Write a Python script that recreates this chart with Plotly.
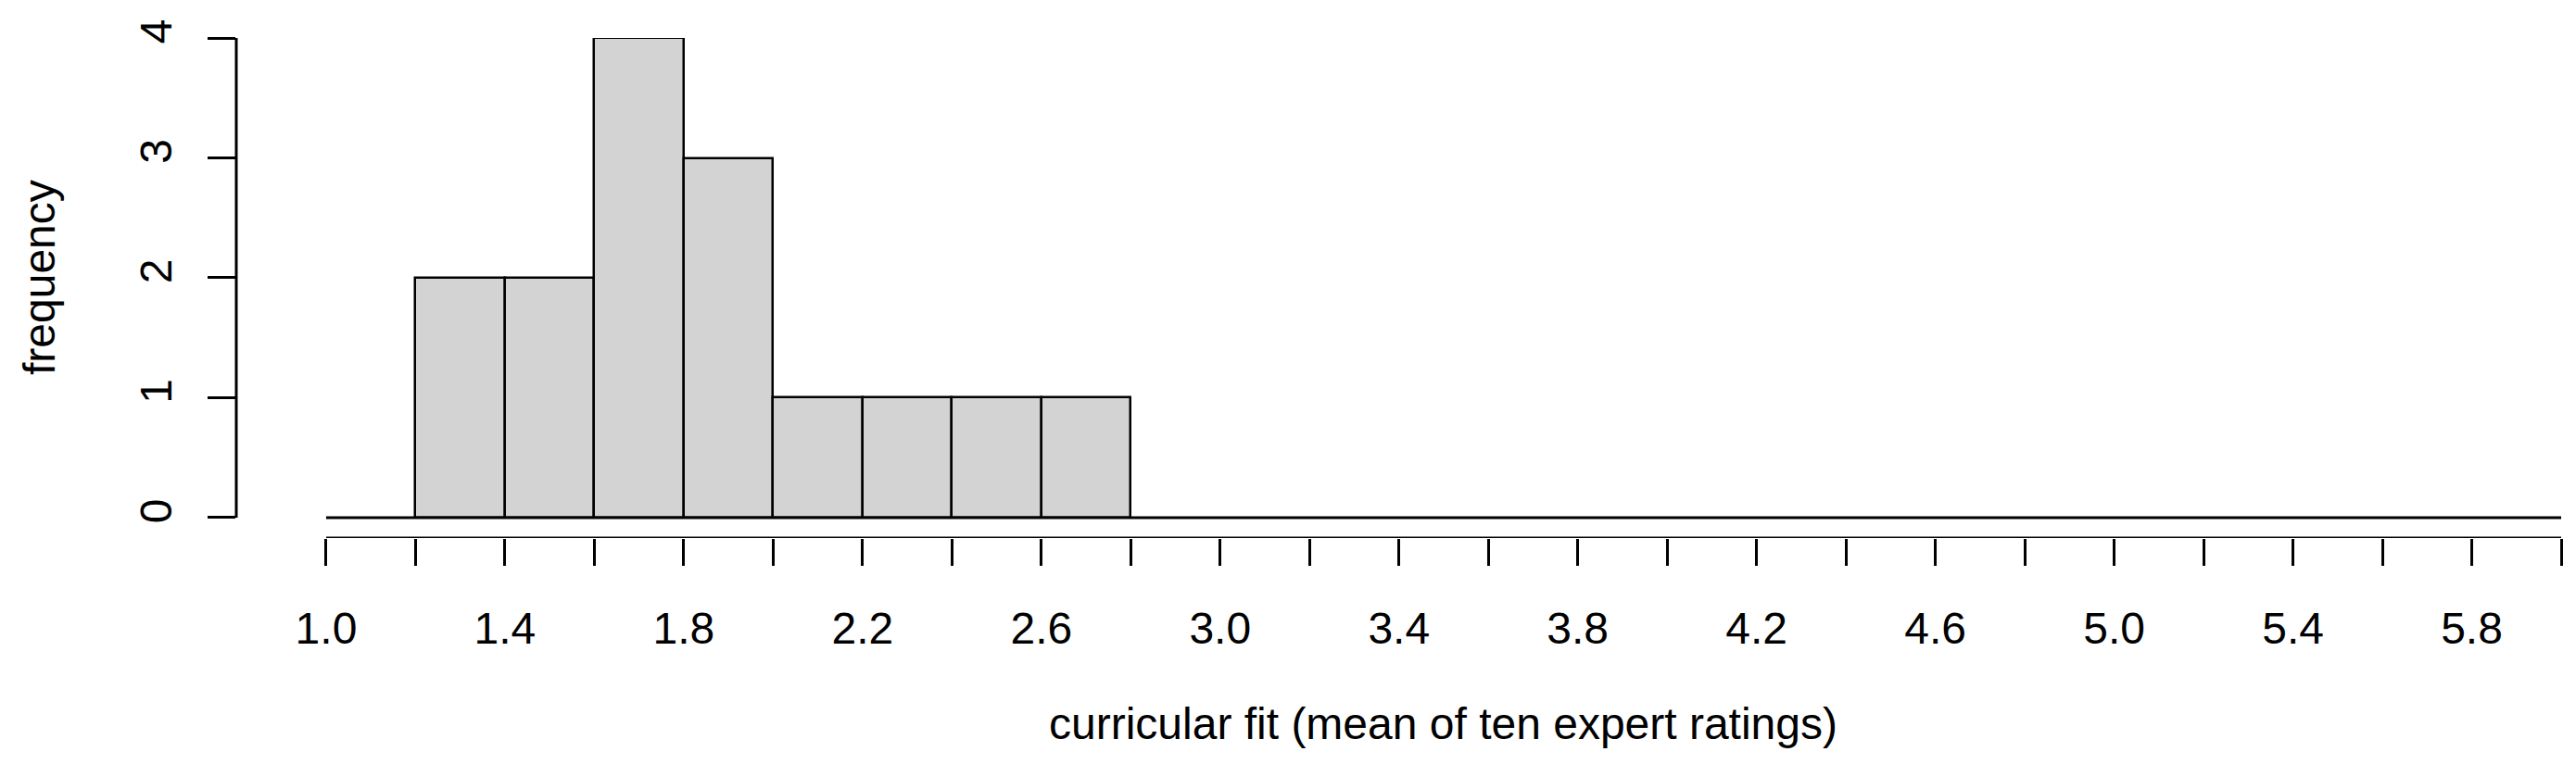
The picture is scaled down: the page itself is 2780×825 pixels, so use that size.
import plotly.graph_objects as go

bin_left = [round(1.0 + 0.2 * i, 1) for i in range(25)]
counts = [0, 2, 2, 4, 3, 1, 1, 1, 1] + [0] * 16
x_tick_vals = [round(1.0 + 0.2 * i, 1) for i in range(26)]
x_tick_text = [f"{v:.1f}" if i % 2 == 0 else "" for i, v in enumerate(x_tick_vals)]
y_tick_vals = [0, 1, 2, 3, 4]
x_title = "curricular fit (mean of ten expert ratings)"
y_title = "frequency"

FONT = "Liberation Sans, Arial, sans-serif"
centers = [b + 0.1 for b in bin_left]
nz = [(c, v) for c, v in zip(centers, counts) if v > 0]

fig = go.Figure()
fig.add_trace(go.Scatter(x=[bin_left[0], bin_left[-1] + 0.2], y=[0, 0], mode="lines",
                         line=dict(color="black", width=3), showlegend=False, hoverinfo="skip"))
fig.add_trace(go.Bar(x=[c for c, _ in nz], y=[v for _, v in nz], width=0.2,
                     marker=dict(color="#D3D3D3", line=dict(color="black", width=2.5)),
                     showlegend=False))

xmin, xmax = x_tick_vals[0], x_tick_vals[-1]
fig.add_shape(type="line", xref="x", yref="y", x0=xmin, x1=xmax, y0=-0.17, y1=-0.17,
              line=dict(color="black", width=3))
fig.add_shape(type="line", xref="paper", yref="y", x0=0, x1=0, y0=0, y1=4,
              line=dict(color="black", width=3))

fig.update_layout(
    width=2780, height=825, plot_bgcolor="white", paper_bgcolor="white",
    margin=dict(l=247, r=24, t=33, b=252),
    font=dict(family=FONT, size=48, color="black"),
    bargap=0,
    xaxis=dict(range=[0.799, 6.0], tickvals=x_tick_vals, ticktext=x_tick_text,
               ticks="outside", ticklen=29, tickwidth=2.5, tickcolor="black",
               showgrid=False, zeroline=False, showline=False, ticklabelstandoff=26),
    yaxis=dict(range=[-0.17, 4], tickvals=y_tick_vals, tickangle=-90,
               ticks="outside", ticklen=30, tickwidth=2.5, tickcolor="black",
               showgrid=False, zeroline=False, showline=False, ticklabelstandoff=20),
    annotations=[
        dict(text=x_title, xref="x", yref="paper", x=3.5, y=0, yshift=-200,
             showarrow=False, font=dict(size=48), yanchor="middle"),
        dict(text=y_title, xref="paper", yref="y", x=0, xshift=-212, y=2,
             textangle=-90, showarrow=False, font=dict(size=48), xanchor="center"),
    ],
)
fig.write_html("out.html")
